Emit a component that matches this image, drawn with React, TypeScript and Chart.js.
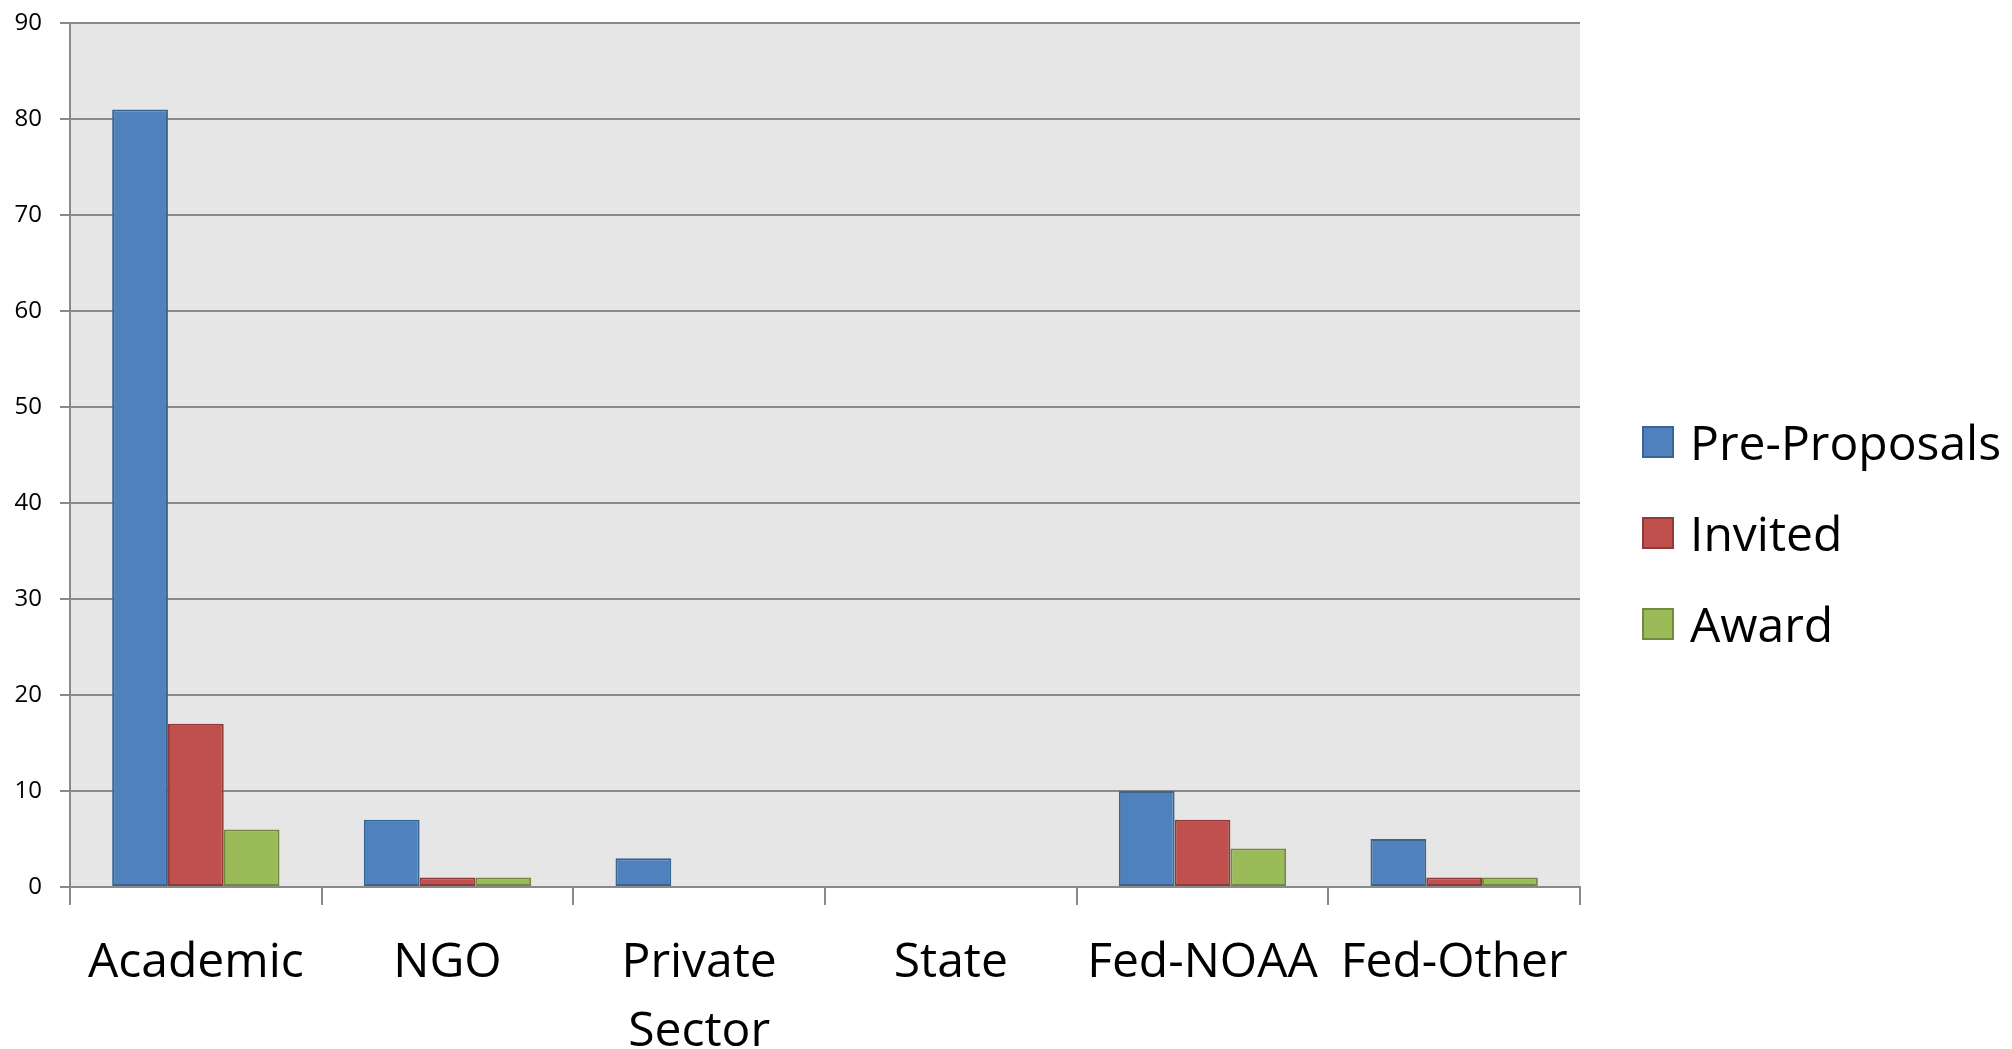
import React, { useEffect, useRef } from "react";
import { Chart, registerables } from "chart.js";

Chart.register(...registerables);

const categories: (string | string[])[] = ["Academic", "NGO", ["Private", "Sector"], "State", "Fed-NOAA", "Fed-Other"];
const seriesNames = ["Pre-Proposals", "Invited", "Award"];
const preProposals = [81, 7, 3, 0, 10, 5];
const invited = [17, 1, 0, 0, 7, 1];
const award = [6, 1, 0, 0, 4, 1];
const yTicks = { min: 0, max: 90, step: 10 };

const fills = ["#4f81bd", "#c0504d", "#9bbb59"];
const borders = ["#3a6592", "#8e3a38", "#73893f"];
const FONT = '"Open Sans", "Noto Sans", sans-serif';
const GRID = "#8a8a8a";

export default function App() {
  const ref = useRef<HTMLCanvasElement | null>(null);

  useEffect(() => {
    let chart: Chart | null = null;
    let cancelled = false;

    const bgPlugin = {
      id: "plotBg",
      beforeDraw(c: any) {
        const { ctx, chartArea } = c;
        ctx.save();
        ctx.fillStyle = "#e6e6e6";
        ctx.fillRect(chartArea.left, chartArea.top, chartArea.right - chartArea.left, chartArea.bottom - chartArea.top);
        ctx.restore();
      },
    };

    const legendPlugin = {
      id: "customLegend",
      afterDraw(c: any) {
        const { ctx } = c;
        const boxX = 1642;
        const box = 32;
        const textX = 1690;
        const centers = [442, 533, 624];
        ctx.save();
        ctx.font = `48px ${FONT}`;
        ctx.textAlign = "left";
        ctx.textBaseline = "alphabetic";
        c.data.datasets.forEach((ds: any, i: number) => {
          const cy = centers[i];
          ctx.fillStyle = ds.backgroundColor;
          ctx.fillRect(boxX, cy - box / 2, box, box);
          ctx.strokeStyle = ds.borderColor;
          ctx.lineWidth = 2;
          ctx.strokeRect(boxX + 1, cy - box / 2 + 1, box - 2, box - 2);
          ctx.fillStyle = "#000";
          ctx.fillText(ds.label, textX, cy + 18);
        });
        ctx.restore();
      },
    };

    const build = () => {
      if (cancelled || !ref.current) return;
      const seriesData = [preProposals, invited, award];
      chart = new Chart(ref.current, {
        type: "bar",
        data: {
          labels: categories as any,
          datasets: seriesData.map((d, i) => ({
            label: seriesNames[i],
            data: d,
            backgroundColor: fills[i],
            borderColor: borders[i],
            borderWidth: (ctx: any) => (ctx.raw === 0 ? 0 : 2),
            borderSkipped: false,
            categoryPercentage: 0.665,
            barPercentage: 1.0,
          })),
        },
        options: {
          responsive: false,
          animation: false,
          devicePixelRatio: 1,
          layout: { padding: { left: 0, top: 23, right: 432, bottom: 0 } },
          plugins: {
            legend: { display: false },
            tooltip: { enabled: false },
          },
          scales: {
            x: {
              grid: {
                display: true,
                drawOnChartArea: false,
                drawTicks: true,
                tickLength: 18,
                offset: true,
                color: GRID,
                lineWidth: 2,
              },
              border: { display: true, color: GRID, width: 2 },
              ticks: {
                autoSkip: false,
                maxRotation: 0,
                minRotation: 0,
                padding: 24,
                color: "#000",
                font: { family: FONT, size: 48, lineHeight: 1.44 },
              },
              afterFit(scale: any) {
                scale.height = 162;
                scale.paddingLeft = 0;
                scale.paddingRight = 0;
              },
            },
            y: {
              min: yTicks.min,
              max: yTicks.max,
              grid: {
                display: true,
                drawOnChartArea: true,
                drawTicks: true,
                tickLength: 10,
                color: GRID,
                lineWidth: 2,
              },
              border: { display: true, color: GRID, width: 2 },
              ticks: {
                stepSize: yTicks.step,
                padding: 18,
                color: "#000",
                font: { family: FONT, size: 24 },
              },
              afterFit(scale: any) {
                scale.width = 70;
                scale.paddingTop = 0;
                scale.paddingBottom = 0;
              },
            },
          },
        },
        plugins: [bgPlugin, legendPlugin],
      });
    };

    const fontsReady = (document as any).fonts
      ? Promise.all([
          (document as any).fonts.load(`48px "Open Sans"`),
          (document as any).fonts.load(`24px "Open Sans"`),
        ]).catch(() => null)
      : Promise.resolve(null);
    fontsReady.then(build);

    return () => {
      cancelled = true;
      if (chart) chart.destroy();
    };
  }, []);

  return (
    <div style={{ position: "fixed", left: 0, top: 0, width: 2012, height: 1049, background: "#fff" }}>
      <canvas ref={ref} width={2012} height={1049} style={{ display: "block", width: 2012, height: 1049 }} />
    </div>
  );
}
